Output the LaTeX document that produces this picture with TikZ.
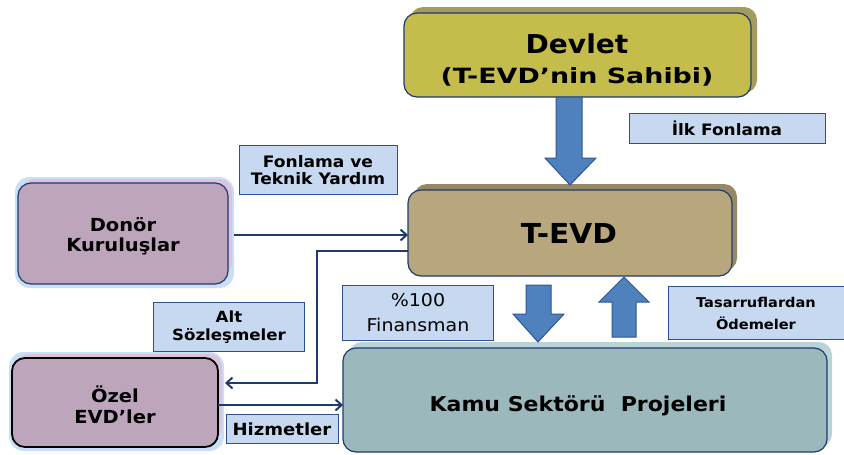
\documentclass[tikz,border=0pt]{standalone}
\usepackage{fontspec}
\setmainfont{DejaVu Sans}[FakeStretch=1.08]
\usetikzlibrary{arrows.meta,calc}
\definecolor{olive}{HTML}{C4BD4B}
\definecolor{oliveshade}{HTML}{A39C5E}
\definecolor{tan}{HTML}{B8A77D}
\definecolor{tanshade}{HTML}{968866}
\definecolor{mauve}{HTML}{BDA5BC}
\definecolor{mauveshade}{HTML}{DCC2DA}
\definecolor{teal}{HTML}{9BB9BD}
\definecolor{tealshade}{HTML}{B9D3D6}
\definecolor{lblfill}{HTML}{C6D9F0}
\definecolor{lblline}{HTML}{2F528F}
\definecolor{navy}{HTML}{1F3A6E}
\definecolor{arrfill}{HTML}{4F81BD}
\definecolor{arrline}{HTML}{2F5597}
\definecolor{glow}{HTML}{C9DFF7}
\newcommand{\fs}[2]{\fontsize{#1}{#2}\selectfont}
\tikzset{
  x=1pt,y=-1pt,
  box/.style={draw=navy,line width=1.2pt,rounded corners=13pt,inner sep=0pt},
  lbl/.style={draw=lblline,fill=lblfill,line width=1pt,inner sep=0pt,align=center},
  link/.style={draw=navy,line width=2.2pt,-{Straight Barb[length=6pt,width=11pt,line width=2pt]}},
  blockarrow/.style={draw=arrline,fill=arrfill,line width=1pt,line join=miter},
}
\begin{document}
\begin{tikzpicture}
\useasboundingbox (0,0) rectangle (844,455);
\fill[white] (0,0) rectangle (844,455);

% ---- shadows and glows behind the main boxes
\fill[oliveshade,rounded corners=13pt] (410,7) rectangle (757,93);
\fill[tanshade,rounded corners=13pt] (414,184) rectangle (737,271);
\fill[tealshade,rounded corners=13pt] (349,342) rectangle (832,447);
\fill[glow,rounded corners=15pt] (15,177) rectangle (234,288);
\fill[mauveshade,rounded corners=13pt] (22,179) rectangle (232,276);
\fill[glow,rounded corners=15pt] (9,352) rectangle (224,451);
\fill[mauveshade,rounded corners=13pt] (16,354) rectangle (222,440);

% ---- main boxes
\draw[box,fill=olive] (404,13) rectangle (751,97);
\node[font=\bfseries\fs{26}{30},anchor=base] (devlet) at (577,53) {Devlet};
\node[font=\bfseries\fs{21}{24}\addfontfeature{FakeStretch=1.28},anchor=base] (devletsub) at (577,83)
  {(T-EVD’nin Sahibi)};

\draw[box,fill=tan] (408,190) rectangle (732,276);
\node[font=\bfseries\fs{27.5}{30}] (tevd) at (569,233) {T-EVD};
\coordinate (tevdW) at (408,235);
\coordinate (tevdW2) at (408,251);

\draw[box,fill=mauve] (18,183) rectangle (228,284);
\node[font=\bfseries\fs{18}{20},align=center] (donor) at (123,236) {Donör\\Kuruluşlar};
\coordinate (donorE) at (234,235);

\draw[box,draw=black,line width=1.8pt,fill=mauve] (12,358) rectangle (218,447);
\node[font=\bfseries\fs{18}{21.5},align=center] (ozel) at (115,405) {Özel\\EVD’ler};
\coordinate (ozelE) at (218,405);
\coordinate (ozelE2) at (225,383);

\draw[box,fill=teal] (343,348) rectangle (827,452);
\node[font=\bfseries\fs{20.4}{24}] (kamu) at (578,406) {Kamu Sektörü \ Projeleri};
\coordinate (kamuW) at (343,405);

% ---- label boxes
\node[lbl,font=\bfseries\fs{15.7}{18},minimum width=196pt,minimum height=30pt] (ilk) at (727,128) {İlk Fonlama};
\node[lbl,font=\bfseries\fs{15.8}{17},minimum width=158pt,minimum height=49pt] (fon) at (318,170) {Fonlama ve\\Teknik Yardım};
\node[lbl,font=\bfseries\fs{15.4}{18},minimum width=151pt,minimum height=49pt] (alt) at (229,327) {Alt\\Sözleşmeler};
\node[lbl,font=\fs{17.6}{25},minimum width=151pt,minimum height=55pt] (fin) at (418,313) {\%100\\Finansman};
\node[lbl,font=\bfseries\fs{13.5}{22},minimum width=176pt,minimum height=53pt] (tas) at (756,313) {Tasarruflardan\\Ödemeler};
\node[lbl,font=\bfseries\fs{16.7}{18},minimum width=112pt,minimum height=29pt] (hiz) at (282,429) {Hizmetler};

% ---- block arrows
\draw[blockarrow] (556,97) -- (582,97) -- (582,158) -- (596,158) -- (570,185)
  -- (545,158) -- (556,158) -- cycle;
\draw[blockarrow] (526,285) -- (551,285) -- (551,314) -- (564,314) -- (538,342)
  -- (513,314) -- (526,314) -- cycle;
\draw[blockarrow] (612,337) -- (636,337) -- (636,302) -- (649,302) -- (624,277)
  -- (599,302) -- (612,302) -- cycle;

% ---- connectors
\draw[link] (donorE) -- (tevdW);
\draw[link] (tevdW2) -| (317,383) -- (ozelE2);
\draw[link] (ozelE) -- (kamuW);
\end{tikzpicture}
\end{document}
